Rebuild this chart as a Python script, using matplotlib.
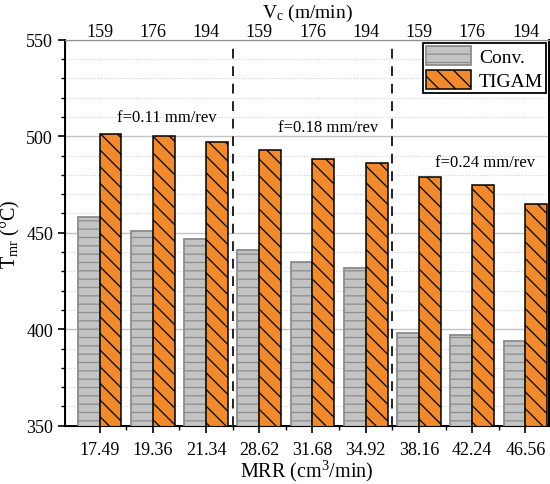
import matplotlib.pyplot as plt
import numpy as np

mrr_labels = ['17.49', '19.36', '21.34', '28.62', '31.68', '34.92', '38.16', '42.24', '46.56']
vc_labels = ['159', '176', '194'] * 3
conv = [458, 451, 447, 441, 435, 432, 398, 397, 394]
tigam = [501, 500, 497, 493, 488, 486, 479, 475, 465]
feed_notes = ['f=0.11 mm/rev', 'f=0.18 mm/rev', 'f=0.24 mm/rev']
note_x = [1.27, 4.29, 7.25]
note_y = [508, 502.5, 484.5]

plt.rcParams['font.family'] = ['Liberation Serif', 'DejaVu Serif']
plt.rcParams['mathtext.fontset'] = 'custom'
plt.rcParams['mathtext.rm'] = 'Liberation Serif'
plt.rcParams['mathtext.it'] = 'Liberation Serif:italic'
plt.rcParams['hatch.linewidth'] = 0.9

fig = plt.figure(figsize=(5.5, 4.85), dpi=100)
ax = fig.add_axes([0.118, 0.12, 0.88, 0.796])

x = np.arange(len(mrr_labels))
w = 0.41
plt.rcParams['hatch.color'] = '#8a8a8a'
ax.bar(x - w / 2, conv, w, color='#c3c3c3', edgecolor='#8c8c8c', hatch='--', linewidth=1.3, label='Conv.', zorder=3)
plt.rcParams['hatch.color'] = 'black'
ax.bar(x + w / 2, tigam, w, color='#f08a2c', edgecolor='black', hatch='\\\\', linewidth=1.1, label='TIGAM', zorder=3)

for xv in [2.5, 5.5]:
    ax.axvline(xv, color='#222222', linestyle=(0, (5, 4)), linewidth=1.4, zorder=4)

for txt, tx, ty in zip(feed_notes, note_x, note_y):
    ax.text(tx, ty, txt, ha='center', va='baseline', fontsize=12)

ax.set_xlim(-0.65, 8.44)
ax.set_ylim(350, 550)
ax.set_yticks(np.arange(350, 551, 50))
ax.set_yticks(np.arange(350, 551, 10), minor=True)
ax.set_xticks(x)
ax.set_xticklabels(mrr_labels)
ax.set_xticks(np.arange(0.5, 8, 1), minor=True)
ax.grid(axis='y', which='major', color='#c4c4c4', linewidth=1.0, zorder=0)
ax.grid(axis='y', which='minor', color='#d0d0d0', linestyle=':', linewidth=0.8, zorder=0)
ax.tick_params(axis='both', which='major', labelsize=13, direction='out', length=5, width=1.2)
ax.tick_params(axis='both', which='minor', direction='out', length=3, width=1.0)
ax.tick_params(axis='x', which='major', pad=6)

for s in ['left', 'bottom', 'right']:
    ax.spines[s].set_linewidth(1.4)
ax.spines['top'].set_color('#909090')

ax.set_xlabel(r'MRR (cm$^3$/min)', fontsize=14.5, labelpad=0)
ax.set_ylabel(r'T$_\mathrm{mr}$ (°C)', fontsize=14.5, labelpad=3)

top = ax.twiny()
top.set_xlim(ax.get_xlim())
top.set_xticks(x)
top.set_xticklabels(vc_labels)
top.tick_params(axis='x', length=0, labelsize=13, pad=0)
top.spines['top'].set_color('#909090')
top.set_xlabel(r'V$_\mathrm{c}$ (m/min)', fontsize=14, labelpad=4)

leg = ax.legend(loc='upper right', fontsize=14, frameon=True, fancybox=False, edgecolor='black',
                borderaxespad=0.15, handlelength=2.3, handleheight=1.15, borderpad=0.15,
                labelspacing=0.2, handletextpad=0.4, framealpha=1)
leg.get_frame().set_linewidth(1.3)

fig.savefig('out.png', dpi=100)
